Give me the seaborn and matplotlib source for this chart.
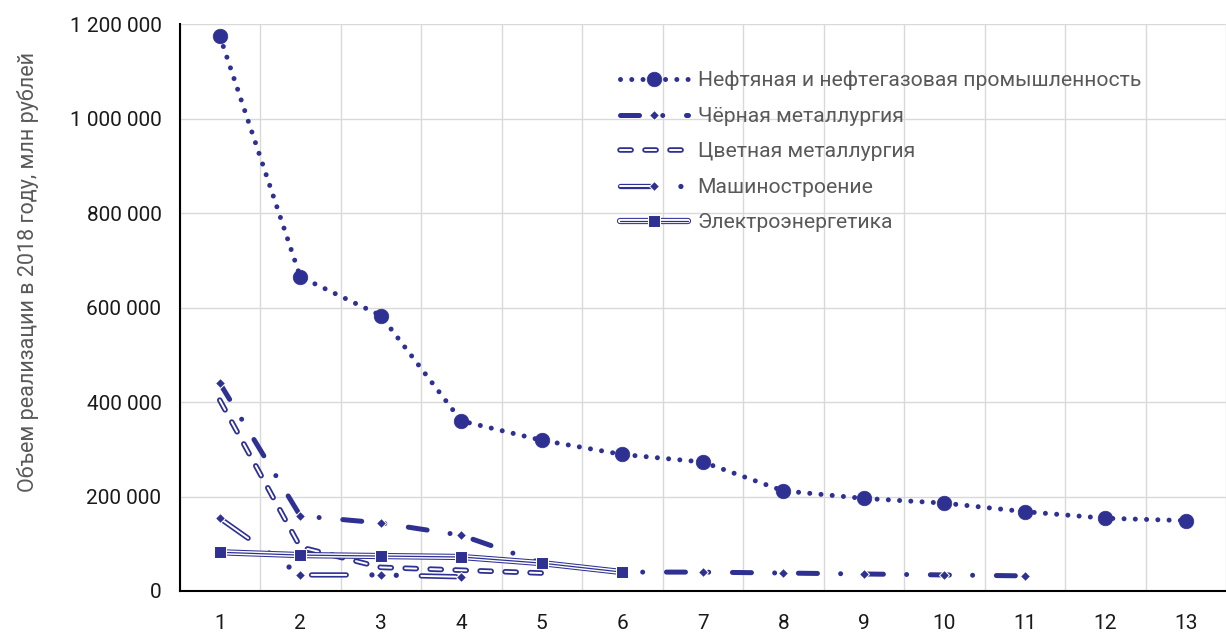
import matplotlib
matplotlib.use('Agg')
from matplotlib import pyplot as plt
from matplotlib.ticker import FuncFormatter
import seaborn as sns

# values (million rubles, 2018)
positions = list(range(1, 14))
oil_gas = [1175000, 665000, 583000, 360000, 319000, 289000, 273000,
           212000, 196000, 186000, 168000, 154000, 149000]
ferrous = [440000, 159000, 144000, 118000, 59000, 40000, 40000,
           38000, 36000, 34000, 32000]
nonferrous = [404000, 93000, 50000, 44000, 38000]
machinery = [154000, 34000, 34000, 30000]
power = [82000, 76000, 74000, 72000, 59000, 40000]

labels = ['Нефтяная и нефтегазовая промышленность',
          'Чёрная металлургия',
          'Цветная металлургия',
          'Машиностроение',
          'Электроэнергетика']
y_ticks = [0, 200000, 400000, 600000, 800000, 1000000, 1200000]
y_title = 'Объем реализации в 2018 году, млн рублей'

BLUE = '#2E3192'
GREY = '#595959'
GRID = '#D9D9D9'

sns.set_style('white')
plt.rcParams['font.family'] = ['Roboto', 'DejaVu Sans']
plt.rcParams['lines.scale_dashes'] = False

fig = plt.figure(figsize=(12.26, 6.35), dpi=100)
ax = fig.add_axes([179.5 / 1226, 44 / 635, (1226 - 179.5) / 1226, 567 / 635])


def draw(values, **kws):
    sns.lineplot(x=positions[:len(values)], y=values, ax=ax, legend=False, **kws)
    return ax.lines[-1]


# oil & gas: dotted line, big circles
l_oil = draw(oil_gas, color=BLUE, linewidth=3.6, linestyle=(0, (0.01, 8.1)),
             dash_capstyle='round', marker='o', markersize=10.5, mec=BLUE, mew=0.5)

# ferrous: long dash - dot, diamonds
l_fer = draw(ferrous, color=BLUE, linewidth=3.6, linestyle=(0, (13.7, 16.7, 0.01, 17.1)),
             dash_capstyle='round', marker='D', markersize=5, mec='white', mew=0.75)

# non-ferrous: hollow dashes
nf_a = draw(nonferrous, color=BLUE, linewidth=4, linestyle=(0, (8, 10)),
            dash_capstyle='round')
nf_b = draw(nonferrous, color='white', linewidth=1.4, linestyle=(0, (8, 10)),
            dash_capstyle='round')

# machinery: hollow long dash - dot - dot, diamonds
mc_a = draw(machinery, color=BLUE, linewidth=3.8,
            linestyle=(0, (25, 18.5, 0.01, 17.5, 0.01, 18)), dash_capstyle='round')
mc_b = draw(machinery, color='white', linewidth=1.4, linestyle=(0, (25, 54.02)),
            dash_capstyle='round', marker='D', markersize=5, mfc=BLUE, mec='white', mew=0.75)

# power: triple solid line, squares
pw_a = draw(power, color=BLUE, linewidth=4.5)
pw_b = draw(power, color='white', linewidth=3.0)
pw_c = draw(power, color=BLUE, linewidth=0.9, marker='s', markersize=8.5,
            mfc=BLUE, mec='white', mew=0.75)

ax.set_xlim(0.5, 0.5 + (1226 - 179.5) / 80.9)
ax.set_ylim(0, 1200000)
ax.set_xticks(positions)
ax.set_xticks([p - 0.5 for p in positions] + [13.5], minor=True)
ax.set_yticks(y_ticks)
ax.yaxis.set_major_formatter(FuncFormatter(lambda v, p: f'{int(v):,}'.replace(',', ' ')))

ax.tick_params(axis='y', direction='inout', length=10, width=1.3, pad=8,
               labelsize=15, labelcolor='#1a1a1a', color='black')
ax.tick_params(axis='x', which='major', direction='inout', length=9.5, width=1.3, pad=12,
               labelsize=15, labelcolor='#1a1a1a', color='black')
ax.tick_params(axis='x', which='minor', direction='out', length=5, width=1.3, color='black')

ax.grid(axis='y', which='major', color=GRID, linewidth=1)
ax.grid(axis='x', which='minor', color=GRID, linewidth=1)
ax.set_axisbelow(True)
for side in ['top', 'right']:
    ax.spines[side].set_visible(False)
for side in ['left', 'bottom']:
    ax.spines[side].set_color('black')
    ax.spines[side].set_linewidth(1.5)

ax.set_ylabel(y_title, fontsize=15.5, color=GREY)
ax.yaxis.label.set_va('center')
ax.yaxis.set_label_coords((28 - 179.5) / 1046.5, (591 - 272) / 567)

handles = [l_oil, l_fer, (nf_a, nf_b), (mc_a, mc_b), (pw_a, pw_b, pw_c)]
fig.legend(handles, labels, loc='upper left', bbox_to_anchor=(620 / 1226, 1 - 71 / 635),
           frameon=False, fontsize=15.2, labelcolor=GREY, handlelength=3.2,
           handletextpad=0.48, labelspacing=0.78, borderpad=0, borderaxespad=0)

fig.savefig('out.png', dpi=100)
